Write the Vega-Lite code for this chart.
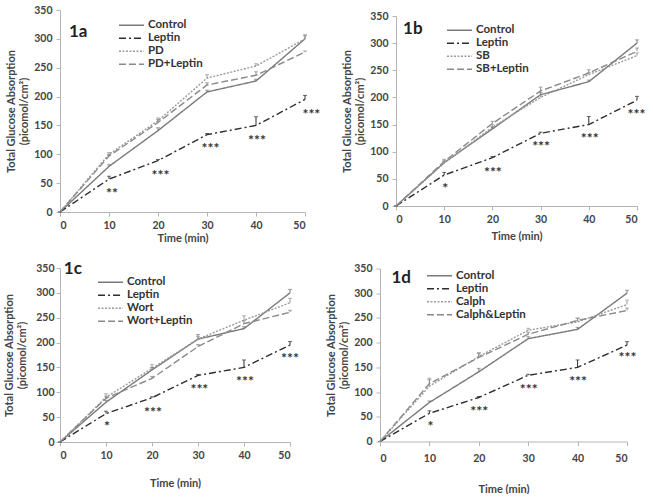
{
  "$schema": "https://vega.github.io/schema/vega-lite/v6.json",
  "padding": {"left": 3, "top": 5, "right": 0, "bottom": 0},
  "align": "none",
  "center": true,
  "spacing": 15,
  "config": {
    "view": {"stroke": null},
    "axis": {"grid": false, "labelOverlap": false, "domainColor": "#b5b5b5", "tickColor": "#b5b5b5", "tickSize": 4, "labelFont": "Lato", "labelFontWeight": "bold", "labelColor": "#444444", "labelFontSize": 10.5, "titleFont": "Lato", "titleFontWeight": "bold", "titleColor": "#444444", "titleFontSize": 11},
    "legend": {"title": null, "orient": "none", "symbolType": "stroke", "symbolSize": 625, "symbolStrokeWidth": 1.4, "labelFont": "Lato", "labelFontSize": 11.5, "labelFontWeight": "bold", "labelColor": "#333333", "clipHeight": 12.5, "rowPadding": 0, "labelOffset": 3},
    "text": {"font": "Lato"}
  },
  "datasets": {
    "a": [
      {"s": "Control", "t": 0, "v": 0, "hi": 0}, {"s": "Control", "t": 10, "v": 79, "hi": 82}, {"s": "Control", "t": 20, "v": 141, "hi": 146}, {"s": "Control", "t": 30, "v": 208, "hi": 211}, {"s": "Control", "t": 40, "v": 227, "hi": 230}, {"s": "Control", "t": 50, "v": 300, "hi": 307},
      {"s": "Leptin", "t": 0, "v": 0, "hi": 0}, {"s": "Leptin", "t": 10, "v": 57, "hi": 62}, {"s": "Leptin", "t": 20, "v": 89, "hi": 91}, {"s": "Leptin", "t": 30, "v": 134, "hi": 136}, {"s": "Leptin", "t": 40, "v": 150, "hi": 165}, {"s": "Leptin", "t": 50, "v": 195, "hi": 202},
      {"s": "PD", "t": 0, "v": 0, "hi": 0}, {"s": "PD", "t": 10, "v": 100, "hi": 103}, {"s": "PD", "t": 20, "v": 158, "hi": 163}, {"s": "PD", "t": 30, "v": 232, "hi": 238}, {"s": "PD", "t": 40, "v": 253, "hi": 257}, {"s": "PD", "t": 50, "v": 300, "hi": 305},
      {"s": "PD+Leptin", "t": 0, "v": 0, "hi": 0}, {"s": "PD+Leptin", "t": 10, "v": 97, "hi": 100}, {"s": "PD+Leptin", "t": 20, "v": 155, "hi": 160}, {"s": "PD+Leptin", "t": 30, "v": 220, "hi": 224}, {"s": "PD+Leptin", "t": 40, "v": 237, "hi": 243}, {"s": "PD+Leptin", "t": 50, "v": 277, "hi": 279}
    ],
    "b": [
      {"s": "Control", "t": 0, "v": 0, "hi": 0}, {"s": "Control", "t": 10, "v": 80, "hi": 83}, {"s": "Control", "t": 20, "v": 142, "hi": 146}, {"s": "Control", "t": 30, "v": 205, "hi": 209}, {"s": "Control", "t": 40, "v": 229, "hi": 232}, {"s": "Control", "t": 50, "v": 300, "hi": 306},
      {"s": "Leptin", "t": 0, "v": 0, "hi": 0}, {"s": "Leptin", "t": 10, "v": 57, "hi": 62}, {"s": "Leptin", "t": 20, "v": 89, "hi": 91}, {"s": "Leptin", "t": 30, "v": 134, "hi": 136}, {"s": "Leptin", "t": 40, "v": 150, "hi": 165}, {"s": "Leptin", "t": 50, "v": 195, "hi": 202},
      {"s": "SB", "t": 0, "v": 0, "hi": 0}, {"s": "SB", "t": 10, "v": 79, "hi": 82}, {"s": "SB", "t": 20, "v": 145, "hi": 150}, {"s": "SB", "t": 30, "v": 200, "hi": 204}, {"s": "SB", "t": 40, "v": 242, "hi": 246}, {"s": "SB", "t": 50, "v": 277, "hi": 282},
      {"s": "SB+Leptin", "t": 0, "v": 0, "hi": 0}, {"s": "SB+Leptin", "t": 10, "v": 82, "hi": 86}, {"s": "SB+Leptin", "t": 20, "v": 152, "hi": 156}, {"s": "SB+Leptin", "t": 30, "v": 212, "hi": 219}, {"s": "SB+Leptin", "t": 40, "v": 245, "hi": 251}, {"s": "SB+Leptin", "t": 50, "v": 285, "hi": 291}
    ],
    "c": [
      {"s": "Control", "t": 0, "v": 0, "hi": 0}, {"s": "Control", "t": 10, "v": 80, "hi": 84}, {"s": "Control", "t": 20, "v": 145, "hi": 150}, {"s": "Control", "t": 30, "v": 207, "hi": 216}, {"s": "Control", "t": 40, "v": 228, "hi": 232}, {"s": "Control", "t": 50, "v": 300, "hi": 307},
      {"s": "Leptin", "t": 0, "v": 0, "hi": 0}, {"s": "Leptin", "t": 10, "v": 57, "hi": 62}, {"s": "Leptin", "t": 20, "v": 89, "hi": 91}, {"s": "Leptin", "t": 30, "v": 134, "hi": 136}, {"s": "Leptin", "t": 40, "v": 150, "hi": 165}, {"s": "Leptin", "t": 50, "v": 195, "hi": 202},
      {"s": "Wort", "t": 0, "v": 0, "hi": 0}, {"s": "Wort", "t": 10, "v": 90, "hi": 97}, {"s": "Wort", "t": 20, "v": 148, "hi": 156}, {"s": "Wort", "t": 30, "v": 207, "hi": 212}, {"s": "Wort", "t": 40, "v": 245, "hi": 254}, {"s": "Wort", "t": 50, "v": 280, "hi": 289},
      {"s": "Wort+Leptin", "t": 0, "v": 0, "hi": 0}, {"s": "Wort+Leptin", "t": 10, "v": 88, "hi": 92}, {"s": "Wort+Leptin", "t": 20, "v": 128, "hi": 132}, {"s": "Wort+Leptin", "t": 30, "v": 192, "hi": 196}, {"s": "Wort+Leptin", "t": 40, "v": 238, "hi": 244}, {"s": "Wort+Leptin", "t": 50, "v": 261, "hi": 265}
    ],
    "d": [
      {"s": "Control", "t": 0, "v": 0, "hi": 0}, {"s": "Control", "t": 10, "v": 79, "hi": 82}, {"s": "Control", "t": 20, "v": 141, "hi": 148}, {"s": "Control", "t": 30, "v": 208, "hi": 212}, {"s": "Control", "t": 40, "v": 227, "hi": 231}, {"s": "Control", "t": 50, "v": 300, "hi": 306},
      {"s": "Leptin", "t": 0, "v": 0, "hi": 0}, {"s": "Leptin", "t": 10, "v": 57, "hi": 62}, {"s": "Leptin", "t": 20, "v": 89, "hi": 91}, {"s": "Leptin", "t": 30, "v": 134, "hi": 136}, {"s": "Leptin", "t": 40, "v": 150, "hi": 165}, {"s": "Leptin", "t": 50, "v": 195, "hi": 202},
      {"s": "Calph", "t": 0, "v": 0, "hi": 0}, {"s": "Calph", "t": 10, "v": 112, "hi": 128}, {"s": "Calph", "t": 20, "v": 172, "hi": 180}, {"s": "Calph", "t": 30, "v": 225, "hi": 229}, {"s": "Calph", "t": 40, "v": 242, "hi": 249}, {"s": "Calph", "t": 50, "v": 277, "hi": 286},
      {"s": "Calph&Leptin", "t": 0, "v": 0, "hi": 0}, {"s": "Calph&Leptin", "t": 10, "v": 117, "hi": 125}, {"s": "Calph&Leptin", "t": 20, "v": 170, "hi": 178}, {"s": "Calph&Leptin", "t": 30, "v": 217, "hi": 221}, {"s": "Calph&Leptin", "t": 40, "v": 245, "hi": 250}, {"s": "Calph&Leptin", "t": 50, "v": 265, "hi": 270}
    ],
    "sa": [{"t": 10.6, "v": 36, "label": "**"}, {"t": 20.5, "v": 67, "label": "***"}, {"t": 30.7, "v": 115, "label": "***"}, {"t": 40.2, "v": 128, "label": "***"}, {"t": 51.3, "v": 174, "label": "***"}],
    "sb": [{"t": 10.2, "v": 36, "label": "*"}, {"t": 20.1, "v": 67, "label": "***"}, {"t": 30.1, "v": 114, "label": "***"}, {"t": 40.2, "v": 129, "label": "***"}, {"t": 49.9, "v": 173, "label": "***"}],
    "sc": [{"t": 10.2, "v": 36, "label": "*"}, {"t": 20.2, "v": 64, "label": "***"}, {"t": 30.3, "v": 111, "label": "***"}, {"t": 40.2, "v": 127, "label": "***"}, {"t": 50, "v": 172, "label": "***"}],
    "sd": [{"t": 10.2, "v": 35, "label": "*"}, {"t": 20.1, "v": 66, "label": "***"}, {"t": 30.1, "v": 111, "label": "***"}, {"t": 40.1, "v": 126, "label": "***"}, {"t": 50.1, "v": 174, "label": "***"}]
  },
  "resolve": {"scale": {"color": "independent", "strokeDash": "independent"}, "legend": {"color": "independent", "strokeDash": "independent"}},
  "vconcat": [
    {
      "hconcat": [
        {
          "width": 245, "height": 202,
          "encoding": {
            "x": {"field": "t", "type": "quantitative", "scale": {"domain": [0, 50], "nice": false}, "axis": {"values": [0, 10, 20, 30, 40, 50], "labelOverlap": false, "title": "Time (min)", "titlePadding": 2, "labelPadding": 4}},
            "y": {"field": "v", "type": "quantitative", "scale": {"domain": [0, 350], "nice": false}, "axis": {"values": [0, 50, 100, 150, 200, 250, 300, 350], "labelOverlap": false, "title": ["Total Glucose Absorption", "(picomol/cm²)"], "titlePadding": 4, "labelPadding": 4}}
          },
          "layer": [
            {"data": {"name": "a"}, "mark": {"type": "line", "strokeWidth": 1.4},
             "encoding": {
               "color": {"field": "s", "type": "nominal", "scale": {"domain": ["Control", "Leptin", "PD", "PD+Leptin"], "range": ["#7a7a7a", "#2e2e2e", "#9a9a9a", "#8a8a8a"]}, "legend": {"legendX": 58, "legendY": 9, "labelFontWeight": "bold"}},
               "strokeDash": {"field": "s", "type": "nominal", "scale": {"domain": ["Control", "Leptin", "PD", "PD+Leptin"], "range": [[1, 0], [7, 3, 2, 3], [2, 1.5], [7, 3]]}, "legend": {"legendX": 58, "legendY": 9, "labelFontWeight": "bold"}}
             }},
            {"data": {"name": "a"}, "mark": {"type": "rule", "strokeWidth": 1},
             "encoding": {"y2": {"field": "hi"}, "color": {"field": "s", "type": "nominal", "legend": null}}},
            {"data": {"name": "a"}, "mark": {"type": "tick", "orient": "horizontal", "size": 4, "thickness": 1},
             "encoding": {"y": {"field": "hi", "type": "quantitative", "axis": {"values": [0, 50, 100, 150, 200, 250, 300, 350], "labelOverlap": false, "title": ["Total Glucose Absorption", "(picomol/cm²)"], "titlePadding": 4, "labelPadding": 4}}, "color": {"field": "s", "type": "nominal", "legend": null}}},
            {"data": {"name": "sa"}, "mark": {"type": "text", "fontSize": 14, "fontWeight": "bold", "color": "#333333", "baseline": "middle", "dy": 3},
             "encoding": {"text": {"field": "label"}}},
            {"data": {"values": [{"t": 3.7, "v": 312, "label": "1a"}]}, "mark": {"type": "text", "fontSize": 17, "fontWeight": "bold", "color": "#222222", "baseline": "middle"},
             "encoding": {"text": {"field": "label"}}}
          ]
        },
        {
          "width": 241, "height": 190,
          "encoding": {
            "x": {"field": "t", "type": "quantitative", "scale": {"domain": [0, 50], "nice": false}, "axis": {"values": [0, 10, 20, 30, 40, 50], "labelOverlap": false, "title": "Time (min)", "titlePadding": 6, "labelPadding": 4}},
            "y": {"field": "v", "type": "quantitative", "scale": {"domain": [0, 350], "nice": false}, "axis": {"values": [0, 50, 100, 150, 200, 250, 300, 350], "labelOverlap": false, "title": ["Total Glucose Absorption", "(picomol/cm²)"], "titlePadding": 4, "labelPadding": 4}}
          },
          "layer": [
            {"data": {"name": "b"}, "mark": {"type": "line", "strokeWidth": 1.4},
             "encoding": {
               "color": {"field": "s", "type": "nominal", "scale": {"domain": ["Control", "Leptin", "SB", "SB+Leptin"], "range": ["#7a7a7a", "#2e2e2e", "#9a9a9a", "#8a8a8a"]}, "legend": {"legendX": 50, "legendY": 8, "labelFontWeight": "bold"}},
               "strokeDash": {"field": "s", "type": "nominal", "scale": {"domain": ["Control", "Leptin", "SB", "SB+Leptin"], "range": [[1, 0], [7, 3, 2, 3], [2, 1.5], [7, 3]]}, "legend": {"legendX": 50, "legendY": 8, "labelFontWeight": "bold"}}
             }},
            {"data": {"name": "b"}, "mark": {"type": "rule", "strokeWidth": 1},
             "encoding": {"y2": {"field": "hi"}, "color": {"field": "s", "type": "nominal", "legend": null}}},
            {"data": {"name": "b"}, "mark": {"type": "tick", "orient": "horizontal", "size": 4, "thickness": 1},
             "encoding": {"y": {"field": "hi", "type": "quantitative", "axis": {"values": [0, 50, 100, 150, 200, 250, 300, 350], "labelOverlap": false, "title": ["Total Glucose Absorption", "(picomol/cm²)"], "titlePadding": 4, "labelPadding": 4}}, "color": {"field": "s", "type": "nominal", "legend": null}}},
            {"data": {"name": "sb"}, "mark": {"type": "text", "fontSize": 14, "fontWeight": "bold", "color": "#333333", "baseline": "middle", "dy": 3},
             "encoding": {"text": {"field": "label"}}},
            {"data": {"values": [{"t": 3.5, "v": 326, "label": "1b"}]}, "mark": {"type": "text", "fontSize": 17, "fontWeight": "bold", "color": "#222222", "baseline": "middle"},
             "encoding": {"text": {"field": "label"}}}
          ]
        }
      ],
      "spacing": 91,
      "center": true,
      "bounds": "flush",
      "resolve": {"scale": {"color": "independent", "strokeDash": "independent"}, "legend": {"color": "independent", "strokeDash": "independent"}}
    },
    {
      "hconcat": [
        {
          "width": 230, "height": 174,
          "encoding": {
            "x": {"field": "t", "type": "quantitative", "scale": {"domain": [0, 50], "nice": false}, "axis": {"values": [0, 10, 20, 30, 40, 50], "labelOverlap": false, "title": "Time (min)", "titlePadding": 17, "labelPadding": 4}},
            "y": {"field": "v", "type": "quantitative", "scale": {"domain": [0, 350], "nice": false}, "axis": {"values": [0, 50, 100, 150, 200, 250, 300, 350], "labelOverlap": false, "title": ["Total Glucose Absorption", "(picomol/cm²)"], "titlePadding": 8, "labelPadding": 2}}
          },
          "layer": [
            {"data": {"name": "c"}, "mark": {"type": "line", "strokeWidth": 1.4},
             "encoding": {
               "color": {"field": "s", "type": "nominal", "scale": {"domain": ["Control", "Leptin", "Wort", "Wort+Leptin"], "range": ["#7a7a7a", "#2e2e2e", "#9a9a9a", "#8a8a8a"]}, "legend": {"legendX": 37, "legendY": 8, "labelFontWeight": "bold"}},
               "strokeDash": {"field": "s", "type": "nominal", "scale": {"domain": ["Control", "Leptin", "Wort", "Wort+Leptin"], "range": [[1, 0], [7, 3, 2, 3], [2, 1.5], [7, 3]]}, "legend": {"legendX": 37, "legendY": 8, "labelFontWeight": "bold"}}
             }},
            {"data": {"name": "c"}, "mark": {"type": "rule", "strokeWidth": 1},
             "encoding": {"y2": {"field": "hi"}, "color": {"field": "s", "type": "nominal", "legend": null}}},
            {"data": {"name": "c"}, "mark": {"type": "tick", "orient": "horizontal", "size": 4, "thickness": 1},
             "encoding": {"y": {"field": "hi", "type": "quantitative", "axis": {"values": [0, 50, 100, 150, 200, 250, 300, 350], "labelOverlap": false, "title": ["Total Glucose Absorption", "(picomol/cm²)"], "titlePadding": 8, "labelPadding": 2}}, "color": {"field": "s", "type": "nominal", "legend": null}}},
            {"data": {"name": "sc"}, "mark": {"type": "text", "fontSize": 14, "fontWeight": "bold", "color": "#333333", "baseline": "middle", "dy": 3},
             "encoding": {"text": {"field": "label"}}},
            {"data": {"values": [{"t": 2.8, "v": 348, "label": "1c"}]}, "mark": {"type": "text", "fontSize": 17, "fontWeight": "bold", "color": "#222222", "baseline": "middle"},
             "encoding": {"text": {"field": "label"}}}
          ]
        },
        {
          "width": 247, "height": 173,
          "encoding": {
            "x": {"field": "t", "type": "quantitative", "scale": {"domain": [0, 50], "nice": false}, "axis": {"values": [0, 10, 20, 30, 40, 50], "labelOverlap": false, "title": "Time (min)", "titlePadding": 19, "labelPadding": 8}},
            "y": {"field": "v", "type": "quantitative", "scale": {"domain": [0, 350], "nice": false}, "axis": {"values": [0, 50, 100, 150, 200, 250, 300, 350], "labelOverlap": false, "title": ["Total Glucose Absorption", "(picomol/cm²)"], "titlePadding": 4, "labelPadding": 4}}
          },
          "layer": [
            {"data": {"name": "d"}, "mark": {"type": "line", "strokeWidth": 1.4},
             "encoding": {
               "color": {"field": "s", "type": "nominal", "scale": {"domain": ["Control", "Leptin", "Calph", "Calph&Leptin"], "range": ["#7a7a7a", "#2e2e2e", "#9a9a9a", "#8a8a8a"]}, "legend": {"legendX": 46, "legendY": 1, "labelFontWeight": "bold"}},
               "strokeDash": {"field": "s", "type": "nominal", "scale": {"domain": ["Control", "Leptin", "Calph", "Calph&Leptin"], "range": [[1, 0], [7, 3, 2, 3], [2, 1.5], [7, 3]]}, "legend": {"legendX": 46, "legendY": 1, "labelFontWeight": "bold"}}
             }},
            {"data": {"name": "d"}, "mark": {"type": "rule", "strokeWidth": 1},
             "encoding": {"y2": {"field": "hi"}, "color": {"field": "s", "type": "nominal", "legend": null}}},
            {"data": {"name": "d"}, "mark": {"type": "tick", "orient": "horizontal", "size": 4, "thickness": 1},
             "encoding": {"y": {"field": "hi", "type": "quantitative", "axis": {"values": [0, 50, 100, 150, 200, 250, 300, 350], "labelOverlap": false, "title": ["Total Glucose Absorption", "(picomol/cm²)"], "titlePadding": 4, "labelPadding": 4}}, "color": {"field": "s", "type": "nominal", "legend": null}}},
            {"data": {"name": "sd"}, "mark": {"type": "text", "fontSize": 14, "fontWeight": "bold", "color": "#333333", "baseline": "middle", "dy": 3},
             "encoding": {"text": {"field": "label"}}},
            {"data": {"values": [{"t": 4.3, "v": 330, "label": "1d"}]}, "mark": {"type": "text", "fontSize": 17, "fontWeight": "bold", "color": "#222222", "baseline": "middle"},
             "encoding": {"text": {"field": "label"}}}
          ]
        }
      ],
      "spacing": 90,
      "center": true,
      "bounds": "flush",
      "resolve": {"scale": {"color": "independent", "strokeDash": "independent"}, "legend": {"color": "independent", "strokeDash": "independent"}}
    }
  ]
}
